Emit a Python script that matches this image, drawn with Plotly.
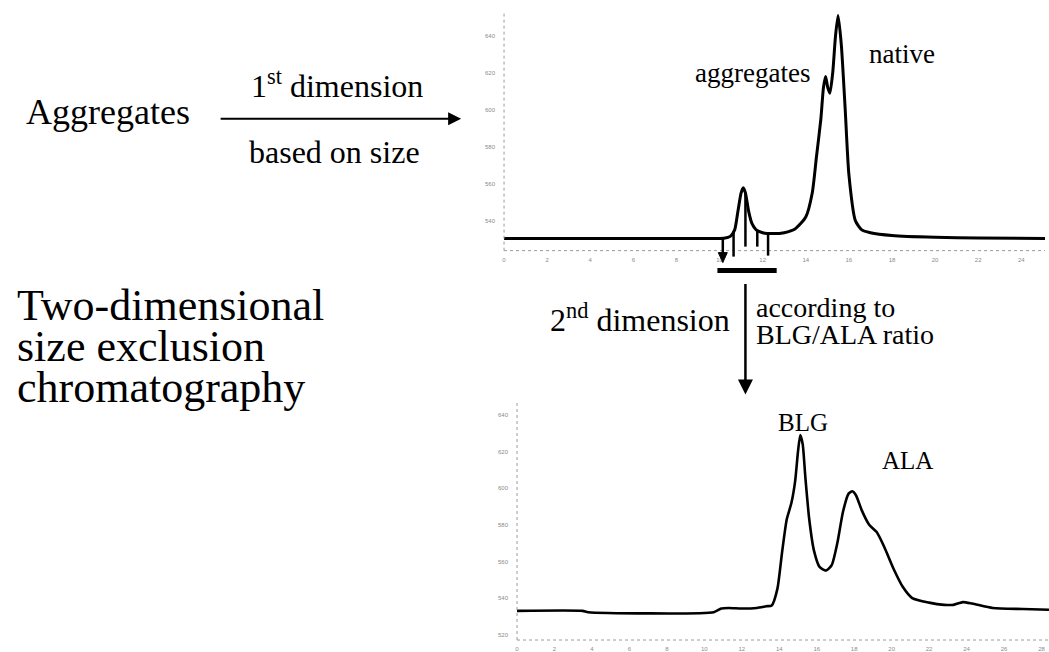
import numpy as np
import plotly.graph_objects as go

# ---- first dimension: SEC of the aggregated sample (time in min, detector signal) ----
sec1_time = [0, 2, 4, 6, 8, 9.5, 10.2, 10.5, 10.7, 10.85, 11.0, 11.1, 11.2, 11.35,
             11.5, 11.7, 12.0, 12.5, 13.0, 13.5, 14.0, 14.3, 14.5, 14.7, 14.82, 14.92,
             15.02, 15.12, 15.25, 15.38, 15.5, 15.65, 15.83, 16.0, 16.3, 16.6, 17.0,
             18.0, 20.0, 22.0, 25.1]
sec1_signal = [530.3, 530.3, 530.3, 530.3, 530.3, 530.3, 530.5, 531.5, 535, 545, 555,
               557.8, 555, 545, 538.5, 535, 533.5, 533, 533.5, 535.5, 542, 555, 575,
               595, 612, 618, 612, 609, 620, 640, 651, 635, 600, 565, 540, 535, 533.5,
               532, 531, 530.6, 530.4]

# ---- second dimension: SEC of the pooled aggregate fraction ----
sec2_time = [0, 3.5, 3.8, 10.5, 10.9, 11.3, 12.0, 12.8, 13.3, 13.6, 13.9, 14.15, 14.4,
             14.65, 14.85, 15.0, 15.12, 15.25, 15.4, 15.6, 15.85, 16.15, 16.5, 16.8,
             17.1, 17.4, 17.7, 17.9, 18.1, 18.4, 18.8, 19.2, 19.6, 20.1, 20.6, 21.1,
             22.0, 22.8, 23.3, 23.8, 24.3, 25.4, 27.0, 28.4]
sec2_signal = [533.0, 533.0, 532.3, 532.3, 534.3, 534.6, 534.3, 534.6, 535.5, 536, 545,
               565, 583, 592, 604, 620, 629, 624, 605, 583, 566, 557, 555, 558, 570,
               587, 597, 598.3, 596, 588, 580, 576, 568, 556, 546, 540, 537.5, 536.3,
               536.3, 537.8, 537, 534.6, 534, 533.6]

# fractions collected across the aggregate peak, and the pooled interval
fraction_times = [10.15, 10.65, 11.2, 11.75, 12.25]
pool_start, pool_end = 9.9, 12.65

x1_ticks = list(range(0, 25, 2))
x2_ticks = list(range(0, 29, 2))
y1_ticks = [540, 560, 580, 600, 620, 640]
y2_ticks = [520, 540, 560, 580, 600, 620, 640]

W, H = 1049, 652


def py(row):
    """paper y for a pixel row measured from the top"""
    return 1 - row / H


def px(col):
    return col / W


SERIF = "Liberation Serif, Times New Roman, serif"
TICKFONT = dict(family="Liberation Sans, Arial", size=6, color="#8a8a8a")

# panel geometry (pixels)
TOP_L, TOP_R, TOP_T, TOP_B = 503, 1045, 12, 251
BOT_L, BOT_R, BOT_T, BOT_B = 516, 1049, 403, 641
Y1_RANGE = [523.8, 523.8 + (TOP_B - TOP_T) / 1.851]
Y2_RANGE = [517.1, 517.1 + (BOT_B - BOT_T) / 1.835]

fig = go.Figure()
fig.add_trace(go.Scatter(x=sec1_time, y=sec1_signal, mode="lines",
                         line=dict(color="black", width=3, shape="spline", smoothing=0.6),
                         xaxis="x", yaxis="y", hoverinfo="skip"))
fig.add_trace(go.Scatter(x=sec2_time, y=sec2_signal, mode="lines",
                         line=dict(color="black", width=2.6, shape="spline", smoothing=0.6),
                         xaxis="x2", yaxis="y2", hoverinfo="skip"))

axis_common = dict(showgrid=False, zeroline=False, showline=False, ticks="",
                   tickfont=TICKFONT, fixedrange=True)
fig.update_layout(
    width=W, height=H,
    margin=dict(l=0, r=0, t=0, b=0),
    paper_bgcolor="white", plot_bgcolor="white",
    showlegend=False,
    xaxis=dict(domain=[px(TOP_L), px(TOP_R)], range=[0, 25.1], anchor="y",
               tickvals=x1_ticks, ticklabelstandoff=4, **axis_common),
    yaxis=dict(domain=[py(TOP_B), py(TOP_T)], range=Y1_RANGE, anchor="x",
               tickvals=y1_ticks, ticklabelstandoff=8, **axis_common),
    xaxis2=dict(domain=[px(BOT_L), px(BOT_R)], range=[0, 28.4], anchor="y2",
                tickvals=x2_ticks, ticklabelstandoff=4, **axis_common),
    yaxis2=dict(domain=[py(BOT_B), py(BOT_T)], range=Y2_RANGE, anchor="x2",
                tickvals=y2_ticks, ticklabelstandoff=8, **axis_common),
)

shapes = []
# dotted axis lines of both chromatograms
for xa, ya in (("x", "y"), ("x2", "y2")):
    dot = dict(color="#9a9a9a", width=1, dash="dot")
    shapes.append(dict(type="line", xref=f"{xa} domain", yref=f"{ya} domain",
                       x0=0, x1=1, y0=0, y1=0, line=dot))
    shapes.append(dict(type="line", xref=f"{xa} domain", yref=f"{ya} domain",
                       x0=0, x1=0, y0=0, y1=1, line=dot))

# fraction cuts: from the trace down through the time axis
y1_span = Y1_RANGE[1] - Y1_RANGE[0]
top_h = TOP_B - TOP_T
cut_bottom_rows = [254, 257, 247, 247, 256]
for t, row in zip(fraction_times, cut_bottom_rows):
    level = float(np.interp(t, sec1_time, sec1_signal))
    shapes.append(dict(type="line", xref="x", yref="y domain",
                       x0=t, x1=t, y0=(level - Y1_RANGE[0]) / y1_span,
                       y1=(TOP_B - row) / top_h,
                       line=dict(color="black", width=2.5)))
# arrow head on the first cut
t0 = fraction_times[0]
hw = 4.5 / 21.6
base = (TOP_B - 253) / top_h
tip = (TOP_B - 263) / top_h
shapes.append(dict(type="path", xref="x", yref="y domain",
                   path=f"M {t0 - hw},{base} L {t0 + hw},{base} L {t0},{tip} Z",
                   fillcolor="black", line=dict(color="black", width=1)))
# pooled interval bar
shapes.append(dict(type="line", xref="x", yref="y domain",
                   x0=pool_start, x1=pool_end,
                   y0=(TOP_B - 271) / top_h, y1=(TOP_B - 271) / top_h,
                   line=dict(color="black", width=5)))
fig.update_layout(shapes=shapes)

ann = []
# horizontal arrow: first dimension
ann.append(dict(xref="paper", yref="paper", axref="pixel", ayref="pixel",
                x=px(460), y=py(119), ax=218 - 460, ay=0, text="",
                showarrow=True, arrowhead=2, arrowsize=1.3, arrowwidth=2,
                arrowcolor="black", standoff=0, startstandoff=0))
# vertical arrow: pooled fractions go to the second dimension
ann.append(dict(xref="x", yref="paper", axref="pixel", ayref="pixel",
                x=fraction_times[2], y=py(395), ax=0, ay=283 - 395,
                text="", showarrow=True, arrowhead=2, arrowsize=1.2, arrowwidth=2.5,
                arrowcolor="black", standoff=0, startstandoff=0))


def label(text, left, baseline, size, anchor="left"):
    # place text by its baseline row (bottom of box = baseline + descent)
    ann.append(dict(xref="paper", yref="paper", x=px(left), y=py(baseline + 0.216 * size + 1),
                    xanchor=anchor, yanchor="bottom", text=text, showarrow=False,
                    font=dict(family=SERIF, size=size, color="black")))


label("Aggregates", 22, 125, 36)
label("1<sup>st</sup> dimension", 247, 98, 32)
label("based on size", 245, 164, 32)
label("aggregates", 692, 83, 27)
label("native", 867, 64, 27)
label("Two-dimensional", 13, 322, 44)
label("size exclusion", 13, 363, 44)
label("chromatography", 13, 404, 44)
label("2<sup>nd</sup> dimension", 731, 333, 32, anchor="right")
label("according to", 753, 318, 28)
label("BLG/ALA ratio", 753, 345, 28)
label("BLG", 775, 432, 25)
label("ALA", 880, 470, 25)
fig.update_layout(annotations=ann)

fig.write_html("out.html")
